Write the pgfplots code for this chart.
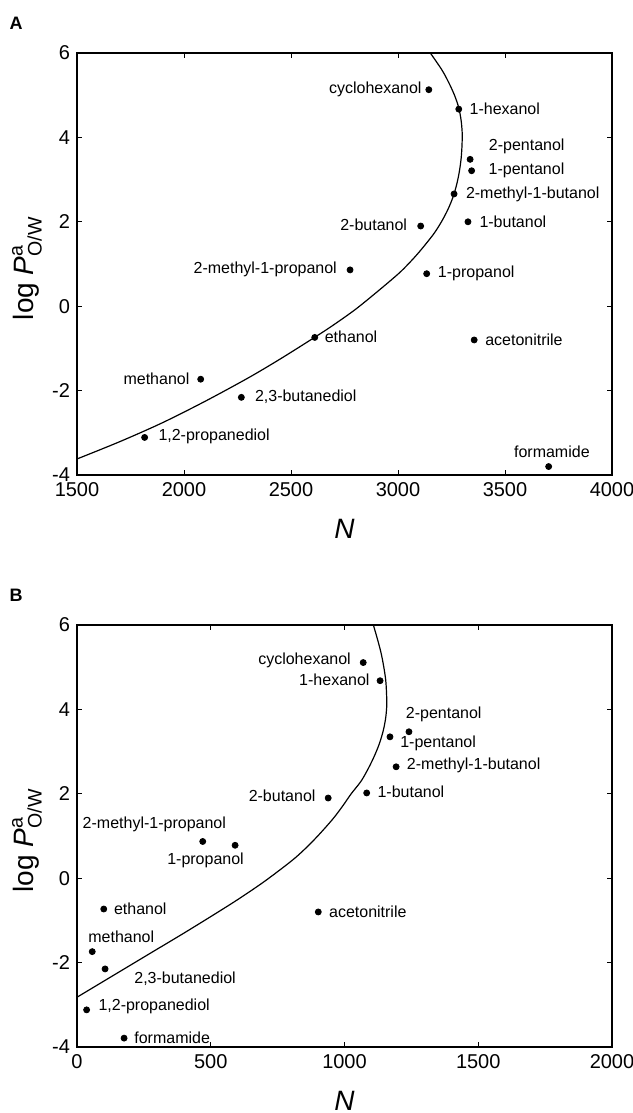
\documentclass[border=0pt]{standalone}
\usepackage{amsmath}
\usepackage{fontspec}
\setmainfont{Liberation Sans}
\usepackage{pgfplots}
\usepackage{pgfplotstable}
\pgfplotsset{compat=1.18}

% logP(o/w) against N, two sets of N values
\pgfplotstableread{
x y
3144 5.13
3284 4.67
3337 3.48
3344 3.21
3262 2.66
3327 2.00
3106 1.90
2776 0.86
3134 0.77
2611 -0.74
3356 -0.80
2078 -1.73
2268 -2.16
1816 -3.11
3704 -3.80
}\dataA
\pgfplotstableread{
x y
1070 5.11
1133 4.68
1241 3.47
1170 3.35
1193 2.64
1083 2.02
939 1.90
470 0.87
591 0.78
100 -0.73
902 -0.80
57 -1.74
105 -2.15
36 -3.12
176 -3.79
}\dataB

\pgfplotsset{
  panel/.style={
    scale only axis,
    width=267.5pt, height=211pt,
    ymin=-4, ymax=6,
    ytick={-4,-2,0,2,4,6},
    yticklabels={-4,-2,0,2,4,6},
    axis line style={line width=0.6pt},
    major tick length=2.5pt,
    tick style={line width=0.5pt, black},
    tick label style={font=\fontsize{10}{12}\selectfont},
    ylabel={log \textit{P}$^{\text{a}}_{\text{O/W}}$},
    xlabel={\textit{N}},
    label style={font=\fontsize{14}{16}\selectfont},
    ylabel style={at={(axis description cs:-0.0935,0.49)}, anchor=center, rotate=0},
    xlabel style={at={(axis description cs:0.5,-0.127)}, anchor=center},
  },
}
\tikzset{lbl/.style={font=\fontsize{8}{9}\selectfont, inner sep=0pt}}

\begin{document}
\begin{tikzpicture}
\useasboundingbox (0,0) rectangle (316pt,556.5pt);

\node[font=\bfseries\fontsize{9}{10}\selectfont] at (8pt,545pt) {A};
\node[font=\bfseries\fontsize{9}{10}\selectfont] at (8pt,259pt) {B};

\begin{axis}[panel, at={(38.5pt,319pt)}, anchor=south west,
  xmin=1500, xmax=4000,
  xtick={1500,2000,2500,3000,3500,4000},
  xticklabels={1500,2000,2500,3000,3500,4000}]
\addplot[black, line width=0.6pt, smooth] coordinates {
  (1500,-3.62) (1700,-3.21) (1900,-2.76) (2100,-2.25) (2300,-1.70)
  (2450,-1.25) (2613,-0.73) (2700,-0.44) (2800,-0.08) (2900,0.33)
  (3000,0.76) (3050,1.01) (3100,1.29) (3165,1.7) (3203,2.0)
  (3234,2.3) (3258,2.6) (3275,2.9) (3287,3.2) (3295,3.5)
  (3299,3.8) (3300,4.1) (3295,4.4) (3284,4.7) (3264,5.0)
  (3237,5.3) (3205,5.6) (3151,6.0)
};
\addplot[only marks, mark=*, mark size=1.5pt, black] table {\dataA};
\node[lbl, anchor=east] at (axis cs:3112,5.13) {cyclohexanol};
\node[lbl, anchor=west] at (axis cs:3333,4.67) {1-hexanol};
\node[lbl, anchor=west] at (axis cs:3423,3.79) {2-pentanol};
\node[lbl, anchor=west] at (axis cs:3422,3.21) {1-pentanol};
\node[lbl, anchor=west] at (axis cs:3316,2.66) {2-methyl-1-butanol};
\node[lbl, anchor=west] at (axis cs:3379,2.00) {1-butanol};
\node[lbl, anchor=east] at (axis cs:3044,1.93) {2-butanol};
\node[lbl, anchor=east] at (axis cs:2716,0.88) {2-methyl-1-propanol};
\node[lbl, anchor=west] at (axis cs:3185,0.77) {1-propanol};
\node[lbl, anchor=west] at (axis cs:2656,-0.72) {ethanol};
\node[lbl, anchor=west] at (axis cs:3406,-0.80) {acetonitrile};
\node[lbl, anchor=east] at (axis cs:2027,-1.71) {methanol};
\node[lbl, anchor=west] at (axis cs:2330,-2.14) {2,3-butanediol};
\node[lbl, anchor=west] at (axis cs:1879,-3.09) {1,2-propanediol};
\node[lbl, anchor=center] at (axis cs:3719,-3.45) {formamide};
\end{axis}

\begin{axis}[panel, at={(38.5pt,33pt)}, anchor=south west,
  xmin=0, xmax=2000,
  xtick={0,500,1000,1500,2000},
  xticklabels={0,500,1000,1500,2000}]
\addplot[black, line width=0.6pt, smooth] coordinates {
  (0,-2.82) (100,-2.44) (200,-2.06) (300,-1.68) (400,-1.30)
  (500,-0.91) (600,-0.51) (700,-0.08) (800,0.40) (850,0.68)
  (900,1.0) (956,1.4) (992,1.7) (1025,2.0) (1062,2.3)
  (1089,2.6) (1112,2.9) (1131,3.2) (1145,3.5) (1154,3.8)
  (1158,4.1) (1157,4.4) (1154,4.7) (1147,5.0) (1138,5.3)
  (1126,5.6) (1108,6.0)
};
\addplot[only marks, mark=*, mark size=1.5pt, black] table {\dataB};
\node[lbl, anchor=east] at (axis cs:1025,5.17) {cyclohexanol};
\node[lbl, anchor=east] at (axis cs:1095,4.71) {1-hexanol};
\node[lbl, anchor=west] at (axis cs:1228,3.89) {2-pentanol};
\node[lbl, anchor=west] at (axis cs:1207,3.20) {1-pentanol};
\node[lbl, anchor=west] at (axis cs:1232,2.67) {2-methyl-1-butanol};
\node[lbl, anchor=west] at (axis cs:1122,2.04) {1-butanol};
\node[lbl, anchor=east] at (axis cs:893,1.96) {2-butanol};
\node[lbl, anchor=west] at (axis cs:20,1.28) {2-methyl-1-propanol};
\node[lbl, anchor=west] at (axis cs:336,0.42) {1-propanol};
\node[lbl, anchor=west] at (axis cs:137,-0.73) {ethanol};
\node[lbl, anchor=west] at (axis cs:941,-0.79) {acetonitrile};
\node[lbl, anchor=west] at (axis cs:41,-1.38) {methanol};
\node[lbl, anchor=west] at (axis cs:213,-2.38) {2,3-butanediol};
\node[lbl, anchor=west] at (axis cs:79,-3.04) {1,2-propanediol};
\node[lbl, anchor=west] at (axis cs:213,-3.77) {formamide};
\end{axis}
\end{tikzpicture}
\end{document}
